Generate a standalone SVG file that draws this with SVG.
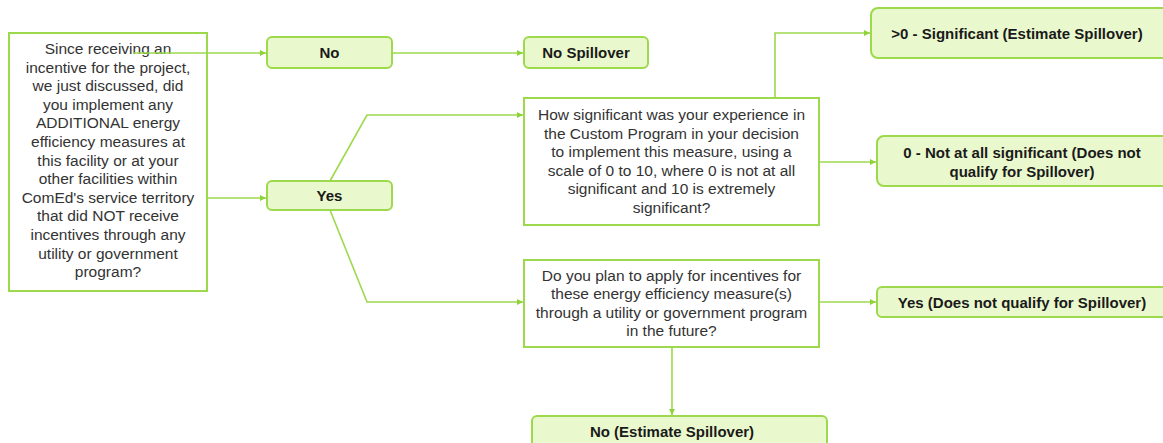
<svg xmlns="http://www.w3.org/2000/svg" width="1163" height="443" viewBox="0 0 1163 443">
<style>
.q{fill:#fff;stroke:#9cd94c;stroke-width:2}
.a{fill:#eaf9cd;stroke:#9cd94c;stroke-width:2}
.t{font-family:"Liberation Sans",Arial,sans-serif;font-size:15.5px;fill:#333;text-anchor:middle}
.b{font-family:"Liberation Sans",Arial,sans-serif;font-size:15px;font-weight:bold;fill:#1a1a1a;text-anchor:middle}
.c{fill:none;stroke:#9cd94c;stroke-width:1.6}
</style>
<defs>
<marker id="ah" viewBox="0 0 10 10" refX="10" refY="5" markerWidth="6" markerHeight="6" markerUnits="userSpaceOnUse" orient="auto">
<path d="M0,0 L10,5 L0,10 z" fill="#8fd33a"/>
</marker>
</defs>
<g id="q1">
<rect class="q" x="9" y="33" width="198" height="258"/>
<text class="t" x="108" y="54">Since receiving an</text>
<text class="t" x="108" y="72.6">incentive for the project,</text>
<text class="t" x="108" y="91.2">we just discussed, did</text>
<text class="t" x="108" y="109.8">you implement any</text>
<text class="t" x="108" y="128.4">ADDITIONAL energy</text>
<text class="t" x="108" y="147">efficiency measures at</text>
<text class="t" x="108" y="165.6">this facility or at your</text>
<text class="t" x="108" y="184.2">other facilities within</text>
<text class="t" x="108" y="202.8">ComEd's service territory</text>
<text class="t" x="108" y="221.4">that did NOT receive</text>
<text class="t" x="108" y="240">incentives through any</text>
<text class="t" x="108" y="258.6">utility or government</text>
<text class="t" x="108" y="277.2">program?</text>
</g>
<g id="no">
<rect class="a" x="267" y="37" width="125" height="31" rx="5"/>
<text class="b" x="329.5" y="58">No</text>
</g>
<g id="nospill">
<rect class="a" x="524" y="37" width="124" height="31" rx="5"/>
<text class="b" x="586" y="58">No Spillover</text>
</g>
<g id="yes">
<rect class="a" x="267" y="181" width="125" height="29" rx="5"/>
<text class="b" x="329.5" y="201">Yes</text>
</g>
<g id="q2">
<rect class="q" x="524" y="98" width="295" height="127"/>
<text class="t" x="671.5" y="120">How significant was your experience in</text>
<text class="t" x="671.5" y="138.6">the Custom Program in your decision</text>
<text class="t" x="671.5" y="157.2">to implement this measure, using a</text>
<text class="t" x="671.5" y="175.8">scale of 0 to 10, where 0 is not at all</text>
<text class="t" x="671.5" y="194.4">significant and 10 is extremely</text>
<text class="t" x="671.5" y="213">significant?</text>
</g>
<g id="q3">
<rect class="q" x="524" y="260" width="295" height="87"/>
<text class="t" x="671.5" y="280.5">Do you plan to apply for incentives for</text>
<text class="t" x="671.5" y="299.1">these energy efficiency measure(s)</text>
<text class="t" x="671.5" y="317.7">through a utility or government program</text>
<text class="t" x="671.5" y="336.3">in the future?</text>
</g>
<g id="sig">
<rect class="a" x="871" y="8" width="300" height="50" rx="7"/>
<text class="b" x="1017" y="38.5">&gt;0 - Significant (Estimate Spillover)</text>
</g>
<g id="notsig">
<rect class="a" x="877" y="136" width="300" height="50" rx="7"/>
<text class="b" x="1022" y="158">0 - Not at all significant (Does not</text>
<text class="b" x="1022" y="177">qualify for Spillover)</text>
</g>
<g id="yesnq">
<rect class="a" x="877" y="287" width="300" height="30" rx="5"/>
<text class="b" x="1022" y="308">Yes (Does not qualify for Spillover)</text>
</g>
<g id="noest">
<rect class="a" x="532" y="416" width="295" height="40" rx="5"/>
<text class="b" x="672" y="436.5">No (Estimate Spillover)</text>
</g>
<g id="connectors">
<path class="c" d="M133,53 H266" marker-end="url(#ah)"/>
<path class="c" d="M207,198 H266" marker-end="url(#ah)"/>
<path class="c" d="M392,53 H523" marker-end="url(#ah)"/>
<path class="c" d="M330,181 L367,115 H523" marker-end="url(#ah)"/>
<path class="c" d="M330,210 L367,302 H523" marker-end="url(#ah)"/>
<path class="c" d="M775,98 V33 H870" marker-end="url(#ah)"/>
<path class="c" d="M819,162 H876" marker-end="url(#ah)"/>
<path class="c" d="M819,302 H876" marker-end="url(#ah)"/>
<path class="c" d="M672,347 V415" marker-end="url(#ah)"/>
</g>
</svg>
